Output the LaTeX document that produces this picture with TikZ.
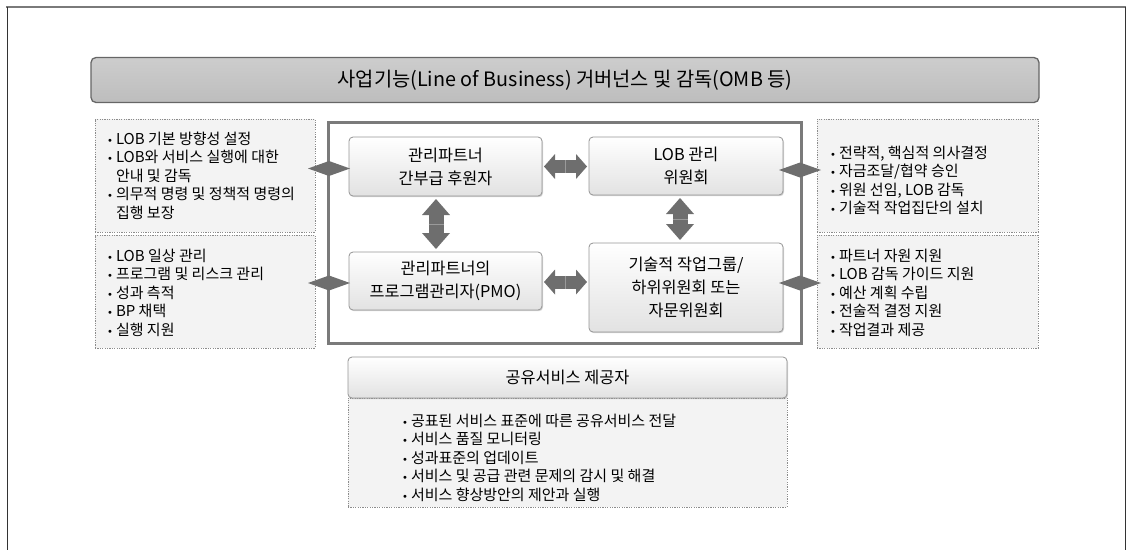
\documentclass[tikz,border=0pt]{standalone}
\usepackage{fontspec}
\setmainfont{Noto Sans CJK KR}
\newfontfamily\dvs{DejaVu Sans}
\usetikzlibrary{arrows.meta,shapes.geometric,calc,shadows}
\definecolor{arrowgray}{HTML}{6E6E6E}
\definecolor{framegray}{HTML}{7A7A7A}
\definecolor{dotfill}{HTML}{F3F3F3}
\definecolor{dotline}{HTML}{8C8C8C}
\definecolor{boxline}{HTML}{959595}
\definecolor{boxbot}{HTML}{E2E2E2}
\definecolor{titleline}{HTML}{666666}
\definecolor{titletop}{HTML}{CDCDCD}
\definecolor{titlemid}{HTML}{DCDCDC}
\definecolor{titlebot}{HTML}{BDBDBD}
\definecolor{sepgray}{HTML}{9A9A9A}
\newcommand{\bul}{\makebox[9pt][l]{\dvs\fontsize{10}{10}\selectfont •}}
\newcommand{\ind}{\hspace*{9pt}}
\begin{document}
\begin{tikzpicture}[x=1pt,y=-1pt,
  every node/.style={inner sep=0pt,outer sep=0pt,text=black},
  titlebar/.style={draw=titleline,line width=1.3pt,rounded corners=5pt,top color=titletop,middle color=titlemid,bottom color=titlebot,minimum width=948pt,minimum height=45pt,font=\fontsize{19.8}{22}\selectfont},
  rbox/.style={draw=boxline,line width=0.8pt,rounded corners=4pt,top color=white,middle color=white,bottom color=boxbot,drop shadow={shadow xshift=1pt,shadow yshift=-1.2pt,opacity=.35},align=center,font=\fontsize{16.3}{23}\selectfont},
  dotbox/.style={draw=dotline,line width=0.7pt,dash pattern=on 1.2pt off 1.2pt,fill=dotfill,anchor=north west},
  blist/.style={anchor=north west,align=left,font=\fontsize{15}{18.6}\selectfont},
  ctrframe/.style={draw=framegray,line width=3pt,anchor=north west},
  hbar/.style={draw=arrowgray,line width=13pt,{Triangle[length=11pt,width=25pt,line width=0pt]}-{Triangle[length=11pt,width=25pt,line width=0pt]},shorten <=2pt,shorten >=2pt},
  vbar/.style={draw=arrowgray,line width=15pt,{Triangle[length=16pt,width=28pt,line width=0pt]}-{Triangle[length=16pt,width=28pt,line width=0pt]},shorten <=3pt,shorten >=3pt},
  sepline/.style={draw=sepgray,line width=0.7pt},
  diam/.style={diamond,fill=arrowgray,minimum width=42pt,minimum height=15pt},
  edgeline/.style={draw=black!80,line width=0.9pt},
]
\useasboundingbox (0,0) rectangle (1127,550);
% outer page frame
\coordinate (ptl) at (7,7);
\coordinate (ptr) at (1125,7);
\coordinate (pbl) at (7,550);
\coordinate (pbr) at (1125,550);
\draw[draw=framegray,line width=2pt] ([xshift=-1pt]ptl) -- ([xshift=1pt]ptr);
\draw[edgeline] (ptl) -- (pbl);
\draw[edgeline] (ptr) -- (pbr);

% title
\node[titlebar] (title) at (565,80) {사업기능(Line of Business) 거버넌스 및 감독(OMB 등)};

% side dotted boxes
\node[dotbox,minimum width=220pt,minimum height=113pt] (lt) at (95,119) {};
\node[dotbox,minimum width=220pt,minimum height=113pt] (lb) at (95,235) {};
\node[dotbox,minimum width=221pt,minimum height=113pt] (rt) at (817,119) {};
\node[dotbox,minimum width=221pt,minimum height=113pt] (rb) at (817,235) {};

% centre frame
\node[ctrframe,minimum width=473pt,minimum height=221pt] (frm) at (328,122) {};

% boxes
\node[rbox,minimum width=193pt,minimum height=59pt] (n1) at (445.5,166.5) {관리파트너\\간부급 후원자};
\node[rbox,minimum width=194pt,minimum height=58pt] (n2) at (686,166) {LOB 관리\\위원회};
\node[rbox,minimum width=193pt,minimum height=58pt] (n3) at (445.5,281) {관리파트너의\\프로그램관리자(PMO)};
\node[rbox,minimum width=194pt,minimum height=89pt] (n4) at (686,287.5) {기술적 작업그룹/\\하위위원회 또는\\자문위원회};

% block arrows
\draw[hbar] (n1.east) -- (n1.east -| n2.west);
\draw[hbar] ([yshift=-1pt]n3.east) -- ([yshift=-1pt]n3.east -| n4.west);
\draw[vbar] ([xshift=-9.5pt]n1.south) -- ([xshift=-9.5pt]n3.north);
\draw[vbar] ([xshift=-6pt]n2.south) -- ([xshift=-6pt]n2.south |- n4.north);
\draw[sepline] ($(n1.east)!.5!(n1.east -| n2.west)$) +(0,-6.5) -- +(0,6.5);
\draw[sepline] ($([yshift=-1pt]n3.east)!.5!([yshift=-1pt]n3.east -| n4.west)$) +(0,-6.5) -- +(0,6.5);
\draw[sepline] ($([xshift=-9.5pt]n1.south)!.5!([xshift=-9.5pt]n3.north)$) +(-7.5,0) -- +(7.5,0);
\draw[sepline] ($([xshift=-6pt]n2.south)!.5!([xshift=-6pt]n2.south |- n4.north)$) +(-7.5,0) -- +(7.5,0);

% diamonds
\node[diam] (dl1) at (329,168.5) {};
\node[diam] (dl2) at (329,283) {};
\node[diam] (dr1) at (800,170) {};
\node[diam] (dr2) at (800,283) {};

% lists
\node[blist] (ltt) at (107,131) {\rule{0pt}{13pt}\bul LOB 기본 방향성 설정\\\bul LOB와 서비스 실행에 대한\\\ind 안내 및 감독\\\bul 의무적 명령 및 정책적 명령의\\\ind 집행 보장};
\node[blist] (lbt) at (107,248) {\rule{0pt}{13pt}\bul LOB 일상 관리\\\bul 프로그램 및 리스크 관리\\\bul 성과 측적\\\bul BP 채택\\\bul 실행 지원};
\node[blist] (rtt) at (830,145) {\rule{0pt}{13pt}\bul 전략적, 핵심적 의사결정\\\bul 자금조달/협약 승인\\\bul 위원 선임, LOB 감독\\\bul 기술적 작업집단의 설치};
\node[blist] (rbt) at (830,248) {\rule{0pt}{13pt}\bul 파트너 자원 지원\\\bul LOB 감독 가이드 지원\\\bul 예산 계획 수립\\\bul 전술적 결정 지원\\\bul 작업결과 제공};

% shared services
\node[dotbox,minimum width=439pt,minimum height=109pt] (sl) at (348,398) {};
\node[rbox,minimum width=439pt,minimum height=41pt] (sp) at (567.5,377.5) {공유서비스 제공자};
\node[blist] (slt) at (402,413) {\rule{0pt}{13pt}\bul 공표된 서비스 표준에 따른 공유서비스 전달\\\bul 서비스 품질 모니터링\\\bul 성과표준의 업데이트\\\bul 서비스 및 공급 관련 문제의 감시 및 해결\\\bul 서비스 향상방안의 제안과 실행};
\end{tikzpicture}
\end{document}
